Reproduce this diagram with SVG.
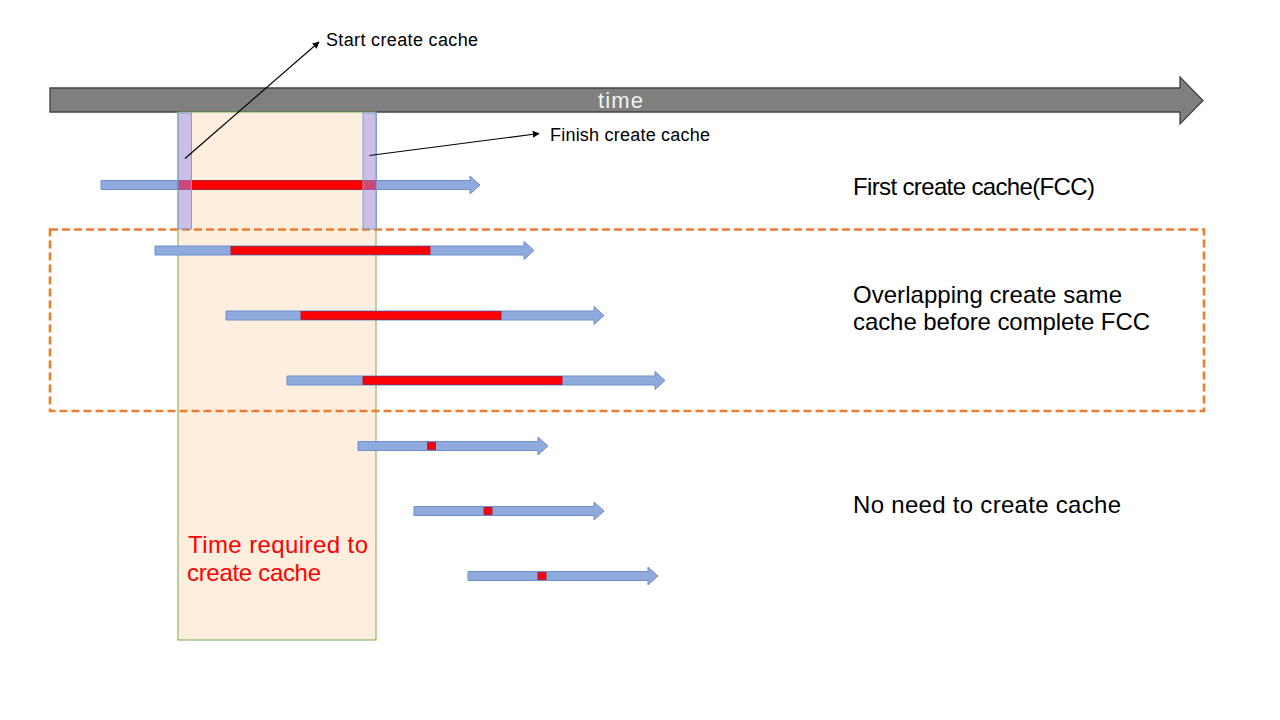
<svg xmlns="http://www.w3.org/2000/svg" width="1280" height="720" viewBox="0 0 1280 720">
  <defs>
    <style>
      .lane { fill: #8faadc; stroke: #6f8ecb; stroke-width: 1; }
      .busy { fill: #ff0000; stroke: #b0203a; stroke-width: 1; }
      .mark { fill: #9a8ff0; fill-opacity: 0.5; stroke: #7f9fd0; stroke-width: 1; }
      .lbl { font-family: "Liberation Sans", Arial, sans-serif; fill: #000000; }
      .big { font-size: 24px; }
      .small { font-size: 18px; }
      .red { fill: #ff0000; font-size: 24px; }
      .conn { stroke: #000000; stroke-width: 1.2; fill: none; marker-end: url(#ah); }
    </style>
    <marker id="ah" viewBox="0 0 10 10" refX="9" refY="5" markerWidth="7" markerHeight="7" markerUnits="userSpaceOnUse" orient="auto">
      <path d="M0,0 L10,5 L0,10 Z" fill="#000000"/>
    </marker>
  </defs>
  <rect width="1280" height="720" fill="#ffffff"/>

  <g id="time-axis">
    <path d="M50,88 L1180,88 L1180,77 L1203,100.5 L1180,124 L1180,112 L50,112 Z" fill="#7f7f7f" stroke="#404040" stroke-width="1.3"/>
    <text x="598" y="108" font-family="Liberation Sans, Arial, sans-serif" font-size="22" fill="#f2f2f2" textLength="45" lengthAdjust="spacing">time</text>
  </g>

  <g id="required-time">
    <rect x="178" y="112" width="198" height="528" fill="#fdeedd" stroke="#70ad47" stroke-width="1"/>
    <text class="lbl red" x="188" y="553" textLength="180" lengthAdjust="spacing">Time required to</text>
    <text class="lbl red" x="187" y="581" textLength="134" lengthAdjust="spacing">create cache</text>
  </g>

  <g id="overlap-box">
    <rect x="50" y="229.5" width="1154" height="181.5" fill="none" stroke="#ed7d31" stroke-width="2.6" stroke-dasharray="8 4"/>
  </g>

  <g id="request-1">
    <path class="lane" d="M101,180.5 L470,180.5 L470,176 L480,185 L470,194 L470,189.5 L101,189.5 Z"/>
    <rect class="busy" x="178" y="180.5" width="198" height="9"/>
  </g>
  <g id="request-2">
    <path class="lane" d="M155,246 L524,246 L524,241.5 L534,250.5 L524,259.5 L524,255 L155,255 Z"/>
    <rect class="busy" x="231" y="246.5" width="199" height="8"/>
  </g>
  <g id="request-3">
    <path class="lane" d="M226,311 L594,311 L594,306.5 L604,315.5 L594,324.5 L594,320 L226,320 Z"/>
    <rect class="busy" x="301" y="311.5" width="200" height="8"/>
  </g>
  <g id="request-4">
    <path class="lane" d="M287,376 L655,376 L655,371.5 L665,380.5 L655,389.5 L655,385 L287,385 Z"/>
    <rect class="busy" x="363" y="376.5" width="199" height="8"/>
  </g>
  <g id="request-5">
    <path class="lane" d="M358,441.5 L538,441.5 L538,437 L548,446 L538,455 L538,450.5 L358,450.5 Z"/>
    <rect class="busy" x="427.5" y="442.5" width="8" height="7"/>
  </g>
  <g id="request-6">
    <path class="lane" d="M414,506.5 L594,506.5 L594,502 L604,511 L594,520 L594,515.5 L414,515.5 Z"/>
    <rect class="busy" x="484" y="507.5" width="8" height="7"/>
  </g>
  <g id="request-7">
    <path class="lane" d="M468,571.5 L648,571.5 L648,567 L658,576 L648,585 L648,580.5 L468,580.5 Z"/>
    <rect class="busy" x="538" y="572.5" width="8" height="7"/>
  </g>

  <g id="start-marker">
    <rect class="mark" x="178" y="113" width="13.5" height="116"/>
  </g>
  <g id="finish-marker">
    <rect class="mark" x="363" y="113" width="13.5" height="116"/>
  </g>

  <g id="connectors">
    <line class="conn" x1="185" y1="158.5" x2="319" y2="42"/>
    <line class="conn" x1="369.5" y1="155.5" x2="539" y2="133.5"/>
  </g>

  <g id="label-start">
    <text class="lbl small" x="326" y="46" textLength="152" lengthAdjust="spacing">Start create cache</text>
  </g>
  <g id="label-finish">
    <text class="lbl small" x="550" y="141" textLength="160" lengthAdjust="spacing">Finish create cache</text>
  </g>
  <g id="label-fcc">
    <text class="lbl big" x="853" y="195" textLength="242" lengthAdjust="spacing">First create cache(FCC)</text>
  </g>
  <g id="label-overlap">
    <text class="lbl big" x="853" y="303" textLength="269" lengthAdjust="spacing">Overlapping create same</text>
    <text class="lbl big" x="853" y="330" textLength="297" lengthAdjust="spacing">cache before complete FCC</text>
  </g>
  <g id="label-noneed">
    <text class="lbl big" x="853" y="513" textLength="268" lengthAdjust="spacing">No need to create cache</text>
  </g>
</svg>
